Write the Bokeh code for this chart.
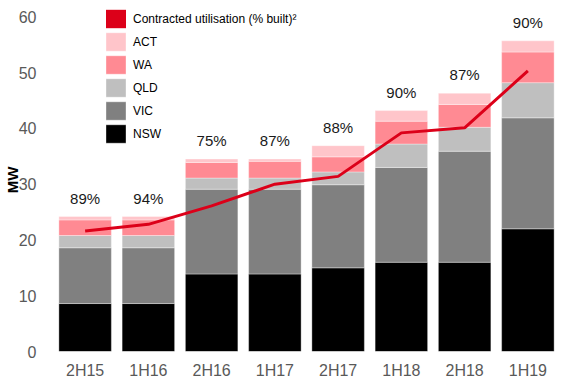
import math
from bokeh.plotting import figure
from bokeh.models import ColumnDataSource, Legend, LegendItem, FactorRange, Range1d
from bokeh.core.properties import value
from bokeh.embed import file_html
from bokeh.resources import INLINE

periods = ["2H15", "1H16", "2H16", "1H17", "2H17", "1H18", "2H18", "1H19"]
nsw = [8.6, 8.6, 13.9, 13.9, 15.0, 16.0, 16.0, 22.0]
vic = [10.0, 10.0, 15.2, 15.2, 14.9, 17.0, 19.9, 19.9]
qld = [2.2, 2.2, 2.0, 2.0, 2.3, 4.2, 4.3, 6.3]
wa = [2.8, 2.8, 2.8, 3.0, 2.7, 4.1, 4.1, 5.5]
act = [0.6, 0.6, 0.6, 0.4, 2.0, 1.9, 2.0, 2.0]
contracted = [21.6, 22.8, 26.1, 30.0, 31.4, 39.2, 40.1, 50.3]
utilisation = ["89%", "94%", "75%", "87%", "88%", "90%", "87%", "90%"]
y_ticks = [0, 10, 20, 30, 40, 50, 60]

states = ["NSW", "VIC", "QLD", "WA", "ACT"]
colors = ["#000000", "#808080", "#bfbfbf", "#ff8a93", "#ffc5ca"]
red = "#dc0019"
FONT = "Liberation Sans"

totals = [a + b + c + d + e for a, b, c, d, e in zip(nsw, vic, qld, wa, act)]
src = ColumnDataSource(dict(period=periods, NSW=nsw, VIC=vic, QLD=qld, WA=wa, ACT=act,
                            total=totals, label=utilisation, contracted=contracted))

p = figure(width=561, height=381, x_range=FactorRange(*periods, range_padding=0),
           y_range=Range1d(0, 61.5), output_backend="svg", toolbar_location=None,
           min_border_left=53, min_border_right=2, min_border_top=8, min_border_bottom=27)
p.outline_line_color = None
p.xgrid.grid_line_color = None
p.ygrid.grid_line_color = None
p.background_fill_color = "white"

bars = p.vbar_stack(states, x="period", width=0.83, color=colors, source=src,
                    line_color="white", line_alpha=0.35, line_width=1)

p.line(x="period", y="contracted", source=src, line_color=red, line_width=3)

p.text(x="period", y="total", text="label", source=src, text_align="center",
       text_baseline="middle", y_offset=-18.5, text_font=value(FONT),
       text_font_size="15px", text_color="#1a1a1a")

dummy = p.vbar(x=[periods[0]], top=[0], bottom=[0], width=0.0, fill_color=red,
               line_color=None)

items = [LegendItem(label="Contracted utilisation (% built)\u00b2", renderers=[dummy])]
for name, r in reversed(list(zip(states, bars))):
    items.append(LegendItem(label=name, renderers=[r]))

legend = Legend(items=items, location=(50, 206), padding=0, spacing=0, margin=0,
                glyph_width=25, glyph_height=23, label_height=23, label_standoff=5,
                border_line_color=None, background_fill_alpha=0,
                label_text_font=FONT, label_text_font_size="12px", label_text_color="#000000")
p.add_layout(legend, "center")

p.yaxis.ticker = y_ticks
p.yaxis.axis_line_color = None
p.yaxis.major_tick_line_color = None
p.yaxis.minor_tick_line_color = None
p.yaxis.major_label_standoff = 11
p.yaxis.major_label_text_font = FONT
p.yaxis.major_label_text_font_size = "16px"
p.yaxis.major_label_text_color = "#595959"
p.yaxis.axis_label = "MW"
p.yaxis.axis_label_standoff = -5
p.yaxis.axis_label_text_font = FONT
p.yaxis.axis_label_text_font_size = "15px"
p.yaxis.axis_label_text_font_style = "bold"
p.yaxis.axis_label_text_color = "#000000"

p.xaxis.axis_line_color = None
p.xaxis.major_tick_line_color = None
p.xaxis.minor_tick_line_color = None
p.xaxis.major_label_standoff = 4
p.xaxis.major_label_text_font = FONT
p.xaxis.major_label_text_font_size = "16px"
p.xaxis.major_label_text_color = "#595959"

open("out.html", "w").write(file_html(p, INLINE))
